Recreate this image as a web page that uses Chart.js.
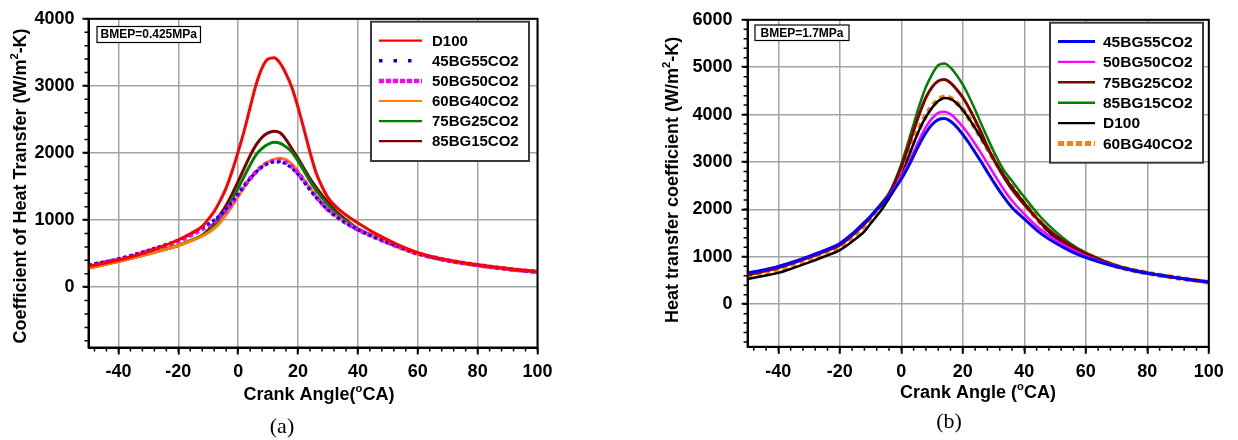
<!DOCTYPE html>
<html>
<head>
<meta charset="utf-8">
<title>Heat transfer coefficient vs crank angle</title>
<script src="https://cdn.jsdelivr.net/npm/chart.js@4.4.1/dist/chart.umd.min.js"></script>
<style>
  html, body { margin: 0; padding: 0; background: #fff; }
  #wrap { position: relative; width: 1238px; height: 440px; overflow: hidden; }
  canvas { position: absolute; top: 0; }
  #chartA { left: 0; }
  #chartB { left: 620px; }
</style>
</head>
<body>
<div id="wrap">
  <canvas id="chartA" width="620" height="440"></canvas>
  <canvas id="chartB" width="618" height="440"></canvas>
</div>
<script>
// Crank angle samples (deg CA), shared by both panels
const crankAngle = [-50, -45, -40, -35, -30, -25, -20, -16, -12, -10,
                    -8, -6, -4, -2, 0, 2, 4, 6, 8, 10,
                    12, 14, 16, 18, 20, 22, 24, 26, 28, 30,
                    33, 36, 40, 45, 50, 55, 60, 70, 80, 90, 100];

// Tick labels
const angleTicks = [-40, -20, 0, 20, 40, 60, 80, 100];
const htcTicksLow = [0, 1000, 2000, 3000, 4000];
const htcTicksHigh = [0, 1000, 2000, 3000, 4000, 5000, 6000];

// (a) BMEP = 0.425 MPa, heat transfer coefficient in W/m2-K
const lowD100 = [310, 355, 405, 463, 530, 610, 705, 795, 905, 1010,
                 1130, 1290, 1480, 1730, 2020, 2330, 2680, 3020, 3270, 3400,
                 3420, 3340, 3180, 2970, 2680, 2350, 2010, 1710, 1500, 1335,
                 1185, 1075, 955, 820, 705, 600, 515, 405, 333, 278, 233];
const low45BG = [330, 375, 422, 482, 550, 622, 700, 790, 890, 940,
                 1000, 1075, 1160, 1270, 1390, 1510, 1620, 1715, 1790, 1840,
                 1866, 1865, 1835, 1770, 1680, 1565, 1450, 1340, 1240, 1150,
                 1045, 955, 855, 755, 665, 580, 502, 400, 330, 273, 228];
const low50BG = [320, 365, 413, 472, 537, 608, 688, 770, 865, 915,
                 975, 1050, 1140, 1255, 1380, 1505, 1620, 1720, 1800, 1852,
                 1880, 1885, 1858, 1795, 1700, 1585, 1465, 1350, 1250, 1155,
                 1048, 958, 855, 755, 662, 577, 500, 398, 328, 271, 227];
const low60BG = [285, 333, 383, 436, 493, 553, 618, 685, 762, 810,
                 875, 965, 1080, 1210, 1350, 1490, 1615, 1720, 1805, 1867,
                 1905, 1920, 1900, 1830, 1725, 1600, 1475, 1360, 1255, 1160,
                 1050, 960, 855, 755, 660, 572, 495, 393, 323, 268, 224];
const low75BG = [288, 336, 386, 440, 497, 558, 623, 690, 768, 830,
                 915, 1030, 1160, 1310, 1475, 1650, 1820, 1975, 2070, 2130,
                 2158, 2145, 2090, 2010, 1880, 1730, 1580, 1445, 1330, 1225,
                 1090, 990, 870, 762, 660, 572, 493, 393, 323, 267, 223];
const low85BG = [285, 334, 384, 438, 495, 555, 620, 692, 775, 850,
                 950, 1080, 1220, 1390, 1575, 1770, 1960, 2120, 2235, 2300,
                 2325, 2300, 2200, 2060, 1920, 1770, 1620, 1490, 1370, 1265,
                 1120, 1005, 870, 765, 662, 574, 495, 394, 324, 268, 224];

// (b) BMEP = 1.7 MPa
const high45BG = [655, 720, 795, 895, 1010, 1135, 1280, 1480, 1725, 1850,
                  1990, 2130, 2280, 2450, 2640, 2870, 3130, 3390, 3620, 3790,
                  3895, 3915, 3860, 3740, 3580, 3400, 3200, 3000, 2790, 2580,
                  2290, 2040, 1800, 1510, 1295, 1120, 985, 790, 652, 552, 465];
const high50BG = [650, 715, 790, 890, 1005, 1130, 1275, 1475, 1720, 1855,
                  2000, 2140, 2300, 2480, 2690, 2940, 3210, 3490, 3740, 3920,
                  4035, 4062, 4010, 3890, 3740, 3570, 3380, 3180, 2970, 2760,
                  2450, 2180, 1900, 1590, 1360, 1170, 1015, 800, 655, 553, 465];
const high75BG = [620, 690, 768, 870, 985, 1110, 1250, 1450, 1690, 1840,
                  2000, 2150, 2320, 2580, 2900, 3270, 3660, 4040, 4360, 4580,
                  4710, 4740, 4670, 4530, 4360, 4140, 3890, 3620, 3320, 3060,
                  2720, 2420, 2100, 1750, 1460, 1235, 1065, 805, 658, 553, 465];
const high85BG = [625, 695, 775, 880, 995, 1120, 1265, 1470, 1710, 1860,
                  2010, 2170, 2350, 2620, 2960, 3370, 3800, 4220, 4580, 4850,
                  5040, 5080, 4990, 4830, 4630, 4380, 4100, 3800, 3510, 3230,
                  2860, 2600, 2260, 1860, 1540, 1280, 1085, 815, 662, 556, 466];
const highD100 = [530, 592, 660, 765, 880, 1005, 1140, 1320, 1535, 1700,
                  1860, 2030, 2230, 2450, 2700, 3050, 3390, 3700, 3950, 4145,
                  4285, 4352, 4330, 4240, 4095, 3915, 3715, 3505, 3285, 3070,
                  2755, 2465, 2135, 1735, 1405, 1215, 1055, 800, 655, 552, 462];
const high60BG = [575, 638, 708, 815, 935, 1065, 1210, 1410, 1655, 1800,
                  1950, 2100, 2270, 2500, 2760, 3110, 3440, 3740, 3980, 4170,
                  4305, 4370, 4345, 4250, 4100, 3920, 3720, 3510, 3290, 3075,
                  2760, 2470, 2140, 1740, 1410, 1220, 1060, 800, 655, 552, 462];

const FONT = "'Liberation Sans', Arial, Helvetica, sans-serif";

// Draws a centred line of bold text where some parts are superscripts
function drawRich(ctx, parts, size) {
    let total = 0;
    parts.forEach(p => {
        ctx.font = 'bold ' + (p.sup ? size * 0.62 : size) + 'px ' + FONT;
        p.w = ctx.measureText(p.t).width;
        total += p.w;
    });
    let x = -total / 2;
    ctx.textAlign = 'left';
    ctx.textBaseline = 'middle';
    parts.forEach(p => {
        ctx.font = 'bold ' + (p.sup ? size * 0.62 : size) + 'px ' + FONT;
        ctx.fillText(p.t, x, p.sup ? -size * 0.36 : 0);
        x += p.w;
    });
}

// Minor ticks, plot frame, axis titles, note box, legend and caption
const panelDecor = {
    id: 'panelDecor',
    afterDraw(chart, args, o) {
        const { ctx, chartArea: a, scales: { x, y } } = chart;
        ctx.save();

        ctx.strokeStyle = '#000';
        ctx.lineWidth = 1.5;
        ctx.beginPath();
        for (let v = Math.ceil(x.min / o.xMinor) * o.xMinor; v <= x.max; v += o.xMinor) {
            const px = x.getPixelForValue(v);
            ctx.moveTo(px, a.bottom);
            ctx.lineTo(px, a.bottom + 4);
        }
        for (let v = Math.ceil(y.min / o.yMinor) * o.yMinor; v <= y.max; v += o.yMinor) {
            const py = y.getPixelForValue(v);
            ctx.moveTo(a.left, py);
            ctx.lineTo(a.left - 4, py);
        }
        ctx.stroke();

        ctx.lineWidth = 2;
        ctx.strokeRect(a.left, a.top, a.right - a.left, a.bottom - a.top);

        // axis titles
        ctx.fillStyle = '#000';
        ctx.save();
        ctx.translate(o.xTitle.x, o.xTitle.y);
        drawRich(ctx, o.xTitle.parts, o.titleSize);
        ctx.restore();
        ctx.save();
        ctx.translate(o.yTitle.x, o.yTitle.y);
        ctx.rotate(-Math.PI / 2);
        drawRich(ctx, o.yTitle.parts, o.titleSize);
        ctx.restore();

        // BMEP note
        const n = o.note;
        ctx.fillStyle = '#fff';
        ctx.fillRect(n.left, n.top, n.right - n.left, n.bottom - n.top);
        ctx.strokeStyle = '#000';
        ctx.lineWidth = 1.2;
        ctx.strokeRect(n.left, n.top, n.right - n.left, n.bottom - n.top);
        ctx.fillStyle = '#000';
        ctx.font = 'bold 12px ' + FONT;
        ctx.textAlign = 'center';
        ctx.textBaseline = 'middle';
        ctx.fillText(n.text, (n.left + n.right) / 2, (n.top + n.bottom) / 2 + 0.5);

        // legend
        const L = o.legend;
        ctx.fillStyle = '#fff';
        ctx.fillRect(L.left, L.top, L.right - L.left, L.bottom - L.top);
        ctx.strokeStyle = '#3a3a3a';
        ctx.lineWidth = 2;
        ctx.strokeRect(L.left, L.top, L.right - L.left, L.bottom - L.top);
        chart.data.datasets.forEach((ds, i) => {
            const yy = L.rowTop + i * L.rowGap;
            ctx.strokeStyle = ds.borderColor;
            ctx.lineWidth = ds.legendWidth;
            ctx.setLineDash(ds.legendDash || []);
            ctx.beginPath();
            ctx.moveTo(L.lineX0, yy);
            ctx.lineTo(L.lineX1, yy);
            ctx.stroke();
            ctx.setLineDash([]);
            ctx.fillStyle = '#000';
            ctx.font = 'bold ' + L.fontSize + 'px ' + FONT;
            ctx.textAlign = 'left';
            ctx.textBaseline = 'middle';
            ctx.fillText(ds.label, L.textX, yy + 1);
        });

        // panel caption
        ctx.fillStyle = '#000';
        ctx.font = '22px "Liberation Serif", "Times New Roman", serif';
        ctx.textAlign = 'center';
        ctx.textBaseline = 'middle';
        ctx.fillText(o.caption.text, o.caption.x, o.caption.y);

        ctx.restore();
    }
};

function makePanel(canvasId, panel) {
    return new Chart(document.getElementById(canvasId), {
        type: 'line',
        data: {
            datasets: panel.series.map(s => ({
                label: s.label,
                data: crankAngle.map((c, i) => ({ x: c, y: s.values[i] })),
                borderColor: s.color,
                borderWidth: s.width,
                borderDash: s.dash || [],
                legendDash: s.legendDash,
                legendWidth: s.legendWidth,
                pointRadius: 0,
                fill: false,
                cubicInterpolationMode: 'monotone'
            }))
        },
        options: {
            responsive: false,
            animation: false,
            devicePixelRatio: 1,
            layout: { padding: panel.padding },
            plugins: {
                legend: { display: false },
                tooltip: { enabled: false },
                panelDecor: panel.decor
            },
            scales: {
                x: {
                    type: 'linear',
                    min: -50,
                    max: 100,
                    afterBuildTicks: s => { s.ticks = angleTicks.map(v => ({ value: v })); },
                    afterFit: s => { s.height = panel.xAxisHeight; },
                    grid: { color: '#a3a3a3', lineWidth: 1.5, tickLength: 7, tickColor: '#000', tickWidth: 2 },
                    border: { display: true, color: '#000', width: 2 },
                    ticks: {
                        color: '#000',
                        padding: 7,
                        maxRotation: 0,
                        autoSkip: false,
                        font: { family: FONT, size: 18, weight: 'bold' },
                        callback: v => String(v)
                    }
                },
                y: {
                    type: 'linear',
                    min: -900,
                    max: panel.yMax,
                    afterBuildTicks: s => { s.ticks = panel.yTicks.map(v => ({ value: v })); },
                    afterFit: s => { s.width = panel.yAxisWidth; },
                    grid: { color: '#a3a3a3', lineWidth: 1.5, tickLength: 6, tickColor: '#000', tickWidth: 2 },
                    border: { display: true, color: '#000', width: 2 },
                    ticks: {
                        color: '#000',
                        padding: panel.yTickPad,
                        autoSkip: false,
                        font: { family: FONT, size: 18, weight: 'bold' },
                        callback: v => String(v)
                    }
                }
            }
        },
        plugins: [panelDecor]
    });
}

// Panel (a): BMEP 0.425 MPa
makePanel('chartA', {
    yMax: 4000,
    yTicks: htcTicksLow,
    yAxisWidth: 88.5,
    yTickPad: 8,
    xAxisHeight: 92.5,
    padding: { top: 16.3, right: 82.5, bottom: 0, left: 0 },
    series: [
        { label: 'D100', values: lowD100, color: '#ff0000', width: 3, legendWidth: 2.2 },
        { label: '45BG55CO2', values: low45BG, color: '#0000ff', width: 3, dash: [3, 3], legendWidth: 3.5, legendDash: [3.5, 11] },
        { label: '50BG50CO2', values: low50BG, color: '#ff00ff', width: 4.5, dash: [4, 3], legendWidth: 4.5, legendDash: [5, 2] },
        { label: '60BG40CO2', values: low60BG, color: '#ff8000', width: 3, legendWidth: 2.2 },
        { label: '75BG25CO2', values: low75BG, color: '#008000', width: 3, legendWidth: 2.2 },
        { label: '85BG15CO2', values: low85BG, color: '#800000', width: 3, legendWidth: 2.2 }
    ],
    decor: {
        xMinor: 4,
        yMinor: 200,
        titleSize: 18,
        xTitle: { x: 319, y: 395, parts: [{ t: 'Crank Angle(' }, { t: 'o', sup: true }, { t: 'CA)' }] },
        yTitle: { x: 21, y: 186, parts: [{ t: 'Coefficient of Heat Transfer (W/m' }, { t: '2', sup: true }, { t: '-K)' }] },
        note: { text: 'BMEP=0.425MPa', left: 97, top: 26.5, right: 200.5, bottom: 42.5 },
        legend: { left: 371, top: 21.7, right: 529, bottom: 161, rowTop: 40.7, rowGap: 20.1, lineX0: 379, lineX1: 422, textX: 432, fontSize: 15 },
        caption: { text: '(a)', x: 282, y: 427 }
    }
});

// Panel (b): BMEP 1.7 MPa
makePanel('chartB', {
    yMax: 6000,
    yTicks: htcTicksHigh,
    yAxisWidth: 127.6,
    yTickPad: 9,
    xAxisHeight: 93.2,
    padding: { top: 13.3, right: 29.2, bottom: 0, left: 0 },
    series: [
        { label: '45BG55CO2', values: high45BG, color: '#0000ff', width: 3, legendWidth: 3 },
        { label: '50BG50CO2', values: high50BG, color: '#ff00ff', width: 2.5, legendWidth: 2.2 },
        { label: '75BG25CO2', values: high75BG, color: '#800000', width: 3, legendWidth: 2.5 },
        { label: '85BG15CO2', values: high85BG, color: '#008000', width: 2.5, legendWidth: 2.5 },
        { label: 'D100', values: highD100, color: '#000000', width: 2.5, legendWidth: 2.2 },
        { label: '60BG40CO2', values: high60BG, color: '#ff8000', width: 5, dash: [5, 4], legendWidth: 5, legendDash: [6, 3] }
    ],
    decor: {
        xMinor: 4,
        yMinor: 200,
        titleSize: 18,
        xTitle: { x: 358, y: 393, parts: [{ t: 'Crank Angle (' }, { t: 'o', sup: true }, { t: 'CA)' }] },
        yTitle: { x: 53, y: 180, parts: [{ t: 'Heat transfer coefficient (W/m' }, { t: '2', sup: true }, { t: '-K)' }] },
        note: { text: 'BMEP=1.7MPa', left: 135, top: 25, right: 229, bottom: 40.5 },
        legend: { left: 430, top: 22.7, right: 583, bottom: 162.7, rowTop: 41.5, rowGap: 20.4, lineX0: 438, lineX1: 475, textX: 483, fontSize: 15.5 },
        caption: { text: '(b)', x: 329, y: 422 }
    }
});
</script>
</body>
</html>
